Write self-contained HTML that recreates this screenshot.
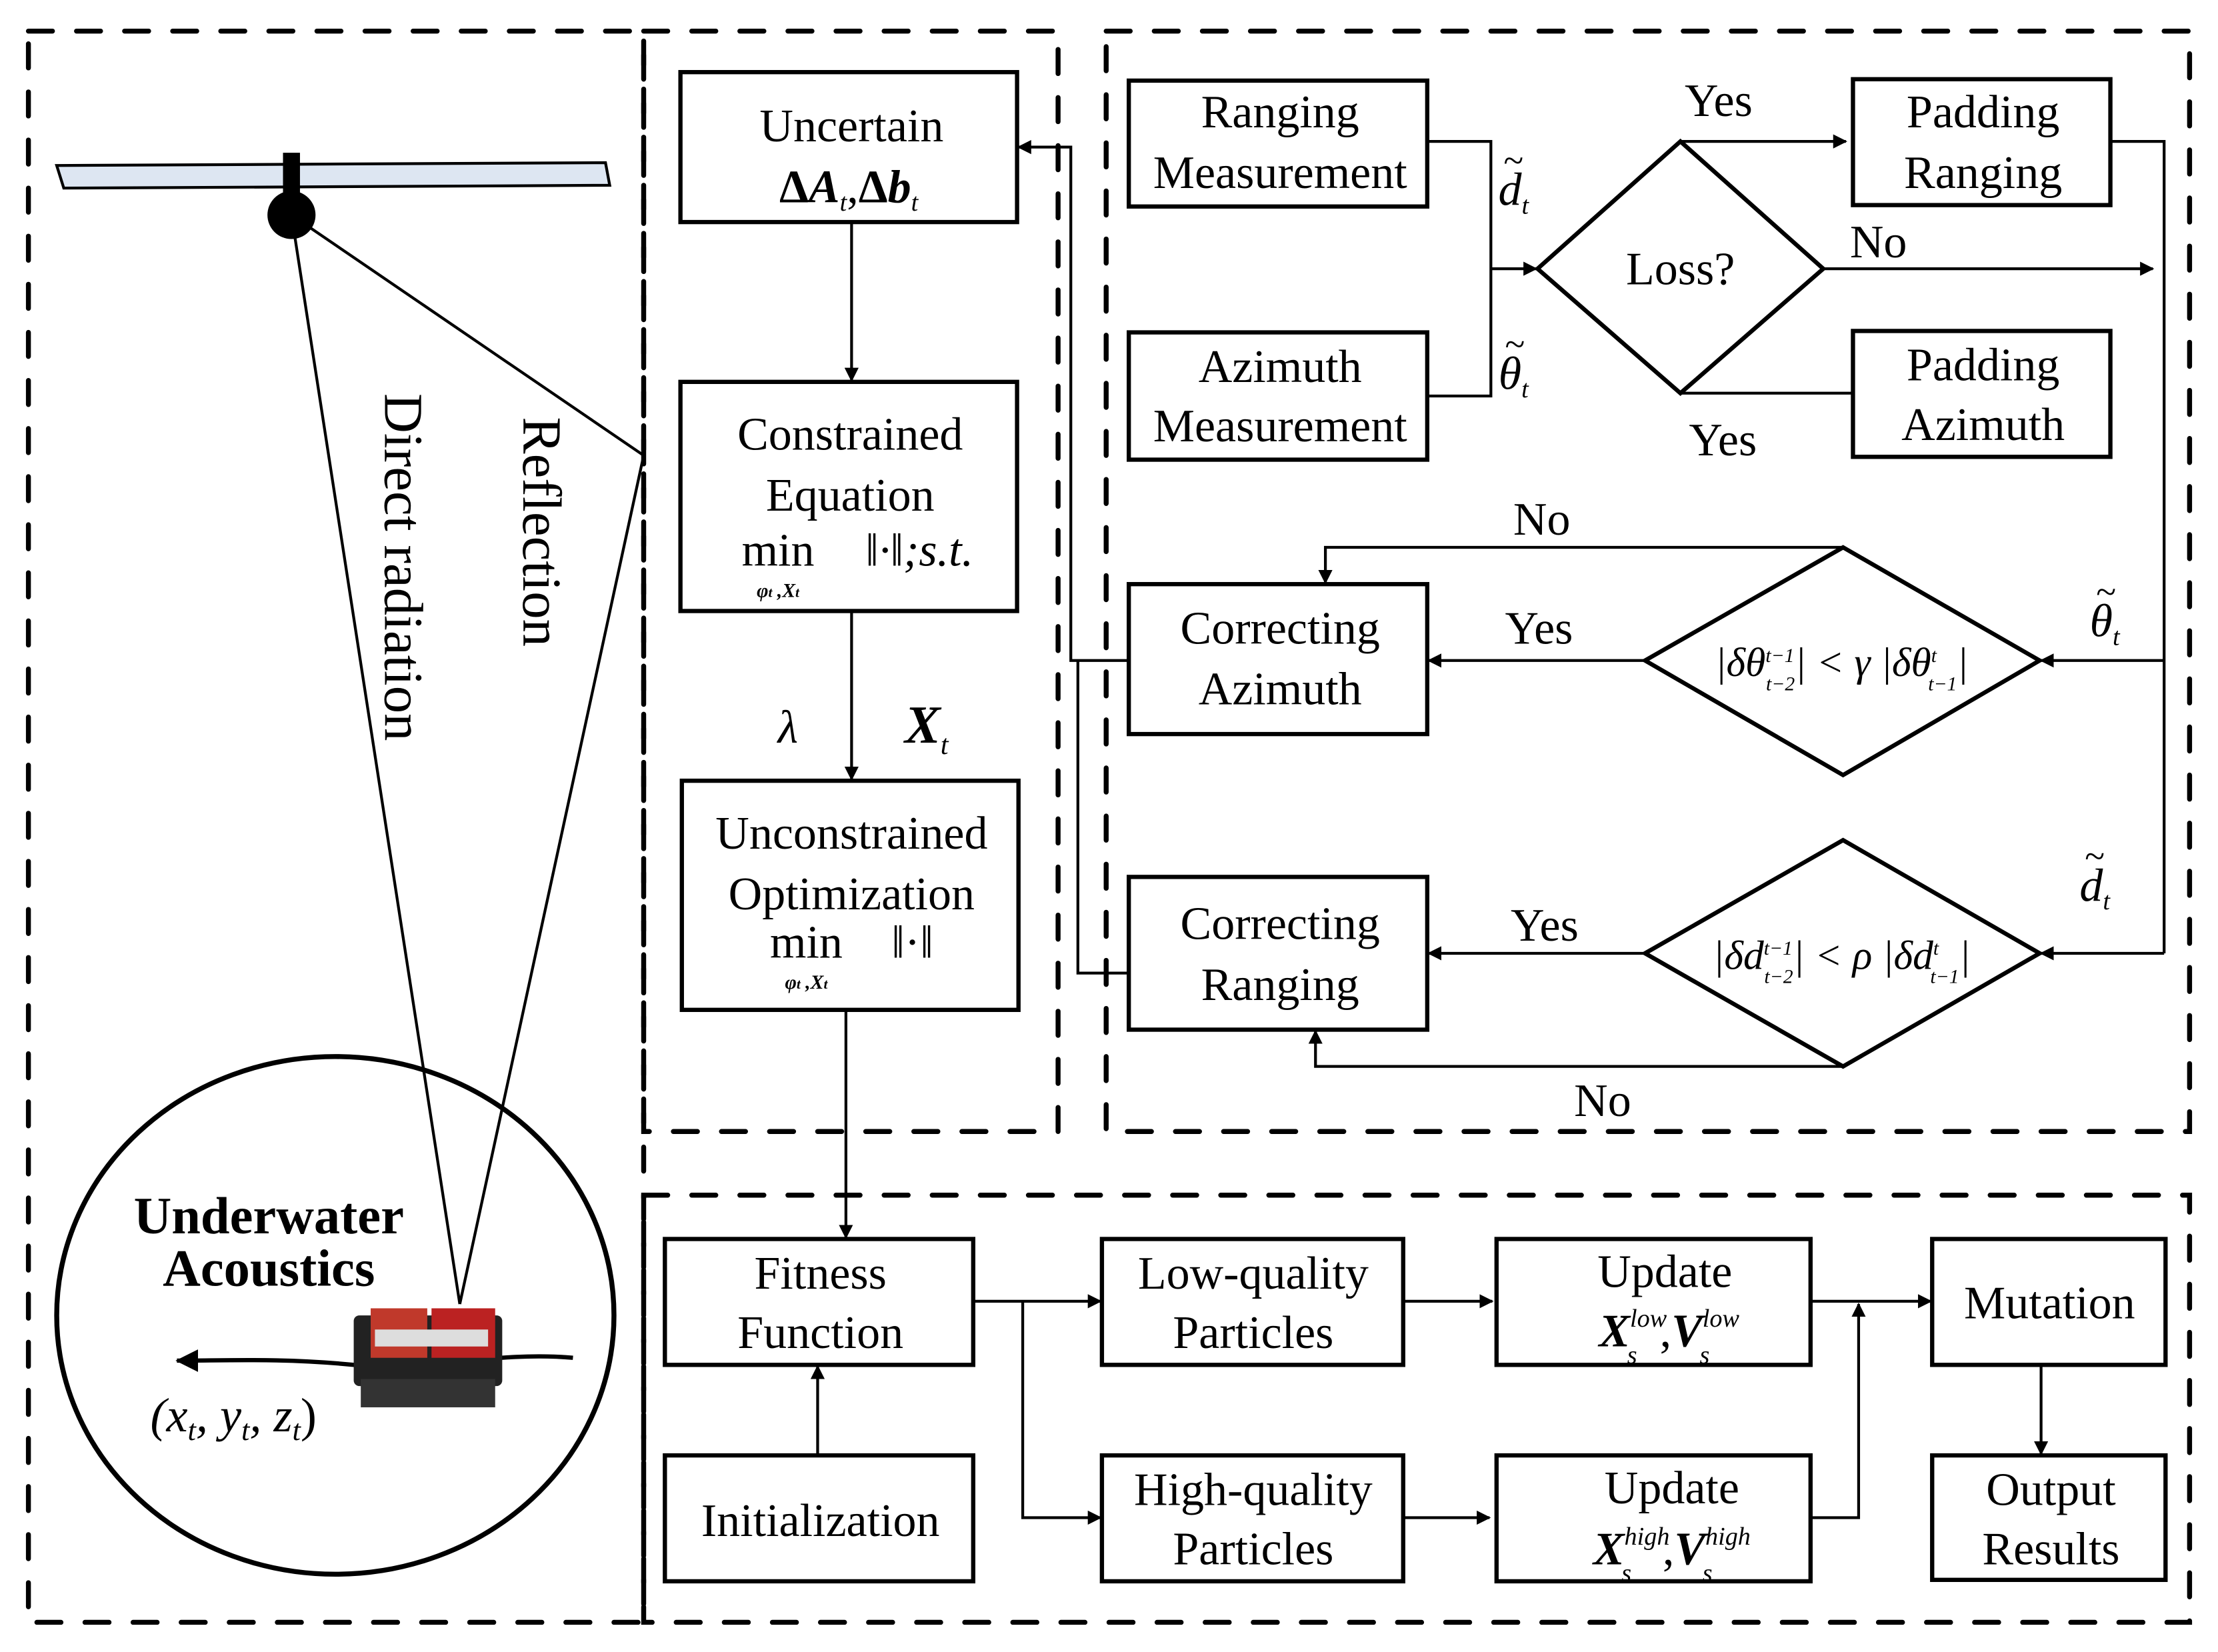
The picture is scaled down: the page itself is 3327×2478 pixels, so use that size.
<!DOCTYPE html>
<html><head><meta charset="utf-8"><style>
html,body{margin:0;padding:0;background:#fff}
svg{display:block}
text{font-family:"Liberation Serif",serif;fill:#000}
</style></head><body>
<svg width="3327" height="2478" viewBox="0 0 1568 1168" xmlns="http://www.w3.org/2000/svg">
<defs>
<marker id="a" markerWidth="10" markerHeight="10" refX="9" refY="5" orient="auto" markerUnits="userSpaceOnUse"><path d="M0,0 L10,5 L0,10 Z" fill="#000"/></marker>
<marker id="b" markerWidth="16" markerHeight="16" refX="15" refY="8" orient="auto" markerUnits="userSpaceOnUse"><path d="M0,0 L16,8 L0,16 Z" fill="#000"/></marker>
</defs>
<rect width="1568" height="1168" fill="#fff"/>
<g fill="none" stroke="#000" stroke-width="3.5" stroke-dasharray="17,17" stroke-linecap="round">
<rect x="20" y="22" width="435" height="1125"/>
<rect x="455" y="22" width="293" height="778"/>
<rect x="782" y="22" width="766" height="778"/>
<rect x="455" y="845" width="1093" height="302"/>
</g>
<!-- left panel -->
<polygon points="40,117 428,115 431,131 45,133" fill="#dde6f2" stroke="#000" stroke-width="2"/>
<rect x="200" y="108" width="12" height="32" fill="#000"/>
<circle cx="206" cy="152" r="17" fill="#000"/>
<g stroke="#000" stroke-width="2" fill="none">
<line x1="206" y1="152" x2="325" y2="922"/>
<line x1="206" y1="152" x2="455" y2="322"/>
<line x1="455" y1="322" x2="325" y2="922"/>
<ellipse cx="237" cy="930" rx="197" ry="183" stroke-width="3.5"/>
<path d="M405,960 C350,955 300,970 250,965 C200,960 160,962 125,962" marker-end="url(#b)" stroke-width="3"/>
</g>
<text x="258" y="415" font-size="39" transform="rotate(90 272 415)" text-anchor="middle">Direct radiation</text>
<text x="358" y="388" font-size="39" transform="rotate(90 370 388)" text-anchor="middle">Reflection</text>
<text x="190" y="872" font-size="37" font-weight="bold" text-anchor="middle">Underwater</text>
<text x="190" y="909" font-size="37" font-weight="bold" text-anchor="middle">Acoustics</text>
<g>
<rect x="250" y="930" width="105" height="50" fill="#222" rx="4"/>
<rect x="262" y="925" width="40" height="35" fill="#c0392b"/>
<rect x="305" y="925" width="45" height="35" fill="#b22"/>
<rect x="265" y="940" width="80" height="12" fill="#ddd"/>
<rect x="255" y="975" width="95" height="20" fill="#333"/>
</g>
<text x="165" y="1012" font-size="34" text-anchor="middle" font-style="italic">(x<tspan font-size="21" dy="6">t</tspan><tspan dy="-6">, y</tspan><tspan font-size="21" dy="6">t</tspan><tspan dy="-6">, z</tspan><tspan font-size="21" dy="6">t</tspan><tspan dy="-6" font-style="normal">)</tspan></text>
<!-- boxes -->
<g fill="#fff" stroke="#000" stroke-width="3">
<rect x="481" y="51" width="238" height="106"/>
<rect x="481" y="270" width="238" height="162"/>
<rect x="482" y="552" width="238" height="162"/>
<rect x="798" y="57" width="211" height="89"/>
<rect x="798" y="235" width="211" height="90"/>
<polygon points="1087,190 1188,100 1289,190 1188,278"/>
<rect x="1310" y="56" width="182" height="89"/>
<rect x="1310" y="234" width="182" height="89"/>
<rect x="798" y="413" width="211" height="106"/>
<polygon points="1163,467 1303,387 1442,467 1303,548"/>
<rect x="798" y="620" width="211" height="108"/>
<polygon points="1163,674 1303,594 1442,674 1303,754"/>
<rect x="470" y="876" width="218" height="89"/>
<rect x="470" y="1029" width="218" height="89"/>
<rect x="779" y="876" width="213" height="89"/>
<rect x="779" y="1029" width="213" height="89"/>
<rect x="1058" y="876" width="222" height="89"/>
<rect x="1058" y="1029" width="222" height="89"/>
<rect x="1366" y="876" width="165" height="89"/>
<rect x="1366" y="1029" width="165" height="88"/>
</g>
<!-- connectors -->
<g stroke="#000" stroke-width="2" fill="none" marker-end="url(#a)">
<line x1="602" y1="157" x2="602" y2="269"/>
<line x1="602" y1="432" x2="602" y2="551"/>
<line x1="598" y1="714" x2="598" y2="875"/>
<path d="M1054,190 L1086,190"/>
<path d="M1188,100 L1305,100"/>
<path d="M1289,190 L1522,190"/>
<path d="M1530,467 L1443,467"/>
<path d="M1530,674 L1443,674"/>
<path d="M1163,467 L1010,467"/>
<path d="M1303,387 L937,387 L937,412"/>
<path d="M1163,674 L1010,674"/>
<path d="M1303,754 L930,754 L930,729"/>
<path d="M798,467 L757,467 L757,104 L720,104"/>
<path d="M688,920 L778,920"/>
<path d="M723,920 L723,1073 L778,1073"/>
<path d="M578,1029 L578,966"/>
<path d="M992,920 L1055,920"/>
<path d="M992,1073 L1053,1073"/>
<path d="M1280,920 L1365,920"/>
<path d="M1280,1073 L1314,1073 L1314,922"/>
<path d="M1443,965 L1443,1028"/>
</g>
<g stroke="#000" stroke-width="2" fill="none">
<path d="M1009,100 L1054,100 L1054,280 L1009,280"/>
<path d="M1188,278 L1310,278"/>
<path d="M1492,100 L1530,100 L1530,674"/>
<path d="M798,688 L762,688 L762,467"/>
</g>
<!-- texts -->
<g font-size="33" text-anchor="middle">
<text x="602" y="100">Uncertain</text>
<text x="600" y="143" font-weight="bold" font-style="italic"><tspan font-style="normal">Δ</tspan>A<tspan font-size="18" dy="6" font-weight="normal">t</tspan><tspan dy="-6" font-weight="normal" font-style="normal">,</tspan><tspan font-style="normal">Δ</tspan>b<tspan font-size="18" dy="6" font-weight="normal">t</tspan></text>
<text x="601" y="318">Constrained</text>
<text x="601" y="361">Equation</text>
<text x="550" y="400">min</text>
<text x="550" y="422" font-size="14" font-style="italic" font-weight="bold">φ<tspan font-size="10">t</tspan> ,X<tspan font-size="10">t</tspan></text>
<text x="650" y="400" font-style="italic">‖·‖;s.t.</text>
<text x="602" y="600">Unconstrained</text>
<text x="602" y="643">Optimization</text>
<text x="570" y="677">min</text>
<text x="570" y="699" font-size="14" font-style="italic" font-weight="bold">φ<tspan font-size="10">t</tspan> ,X<tspan font-size="10">t</tspan></text>
<text x="645" y="677">‖·‖</text>
<text x="557" y="525" font-style="italic">λ</text>
<text x="655" y="525" font-style="italic" font-weight="bold" font-size="38">X<tspan font-size="20" dy="8" font-weight="normal">t</tspan></text>
<text x="905" y="90">Ranging</text>
<text x="905" y="133">Measurement</text>
<text x="905" y="270">Azimuth</text>
<text x="905" y="312">Measurement</text>
<text x="1070" y="145" font-style="italic">d<tspan font-size="18" dy="6">t</tspan></text>
<text x="1070" y="122" font-size="26">~</text>
<text x="1070" y="275" font-style="italic">θ<tspan font-size="18" dy="6">t</tspan></text>
<text x="1071" y="252" font-size="26">~</text>
<text x="1188" y="201">Loss?</text>
<text x="1215" y="82">Yes</text>
<text x="1328" y="182">No</text>
<text x="1218" y="322">Yes</text>
<text x="1402" y="90">Padding</text>
<text x="1402" y="133">Ranging</text>
<text x="1402" y="269">Padding</text>
<text x="1402" y="311">Azimuth</text>
<text x="905" y="455">Correcting</text>
<text x="905" y="498">Azimuth</text>
<text x="905" y="664">Correcting</text>
<text x="905" y="707">Ranging</text>
<text x="1090" y="378">No</text>
<text x="1088" y="455">Yes</text>
<text x="1092" y="665">Yes</text>
<text x="1133" y="789">No</text>
<text x="1488" y="450" font-style="italic">θ<tspan font-size="18" dy="6">t</tspan></text>
<text x="1489" y="427" font-size="26">~</text>
<text x="1481" y="637" font-style="italic">d<tspan font-size="18" dy="6">t</tspan></text>
<text x="1481" y="614" font-size="26">~</text>
<text x="1302" y="478" font-size="29" font-style="italic">|δθ<tspan font-size="14" dy="-10">t−1</tspan><tspan font-size="14" dx="-20" dy="20">t−2</tspan><tspan dy="-10">| &lt; γ |δθ</tspan><tspan font-size="14" dy="-10">t</tspan><tspan font-size="14" dx="-6" dy="20">t−1</tspan><tspan dy="-10">|</tspan></text>
<text x="1302" y="685" font-size="29" font-style="italic">|δd<tspan font-size="14" dy="-10">t−1</tspan><tspan font-size="14" dx="-20" dy="20">t−2</tspan><tspan dy="-10">| &lt; ρ |δd</tspan><tspan font-size="14" dy="-10">t</tspan><tspan font-size="14" dx="-6" dy="20">t−1</tspan><tspan dy="-10">|</tspan></text>
<text x="580" y="911">Fitness</text>
<text x="580" y="953">Function</text>
<text x="580" y="1086">Initialization</text>
<text x="886" y="911">Low-quality</text>
<text x="886" y="953">Particles</text>
<text x="886" y="1064">High-quality</text>
<text x="886" y="1106">Particles</text>
<text x="1177" y="910">Update</text>
<text x="1180" y="952" font-style="italic" font-weight="bold">X<tspan font-size="18" dy="-14" font-weight="normal">low</tspan><tspan font-size="18" dx="-28" dy="26" font-weight="normal">s</tspan><tspan dx="16" dy="-12" font-weight="normal" font-style="normal">,</tspan>V<tspan font-size="18" dy="-14" font-weight="normal">low</tspan><tspan font-size="18" dx="-28" dy="26" font-weight="normal">s</tspan></text>
<text x="1182" y="1063">Update</text>
<text x="1182" y="1106" font-style="italic" font-weight="bold">X<tspan font-size="18" dy="-14" font-weight="normal">high</tspan><tspan font-size="18" dx="-34" dy="26" font-weight="normal">s</tspan><tspan dx="22" dy="-12" font-weight="normal" font-style="normal">,</tspan>V<tspan font-size="18" dy="-14" font-weight="normal">high</tspan><tspan font-size="18" dx="-34" dy="26" font-weight="normal">s</tspan></text>
<text x="1449" y="932">Mutation</text>
<text x="1450" y="1064">Output</text>
<text x="1450" y="1106">Results</text>
</g>
</svg>
</body></html>
